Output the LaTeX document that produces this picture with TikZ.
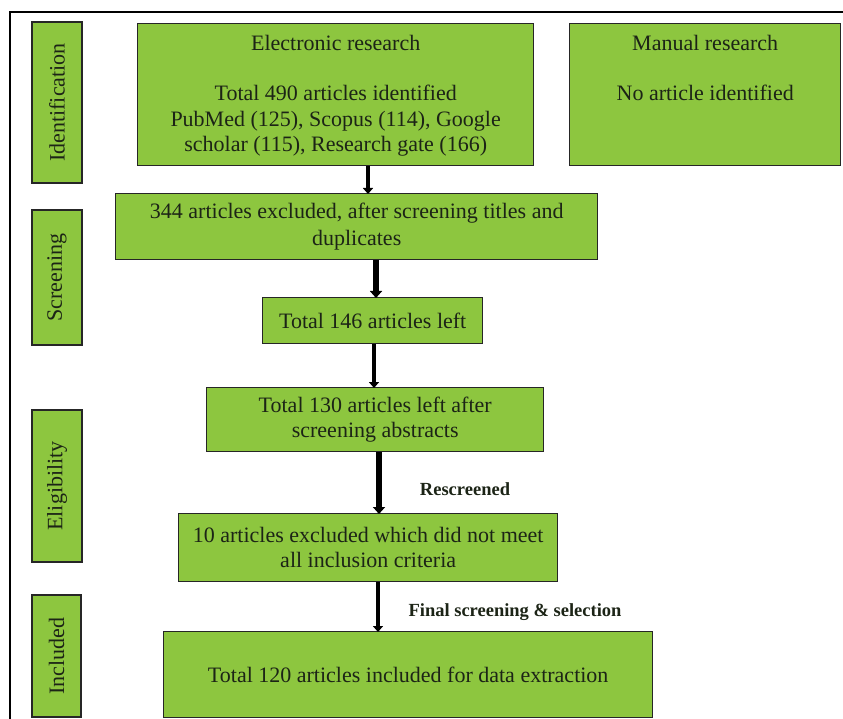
\documentclass[tikz,border=0pt]{standalone}
\usepackage{fontspec}
\setmainfont{Liberation Serif}
\usetikzlibrary{arrows.meta}
\definecolor{boxgreen}{RGB}{141,198,63}
\definecolor{ink}{RGB}{28,36,22}
\begin{document}
\begin{tikzpicture}[x=1pt,y=-1pt,
  box/.style={draw=black!85, line width=1.4pt, fill=boxgreen, inner sep=0pt, align=center, text=ink, font=\fontsize{22}{25}\selectfont},
  side/.style={draw=black!85, line width=1.4pt, fill=boxgreen, inner sep=0pt},
  sidetxt/.style={rotate=90, text=ink, font=\fontsize{22}{25}\selectfont},
  arr/.style={-{Triangle[length=6pt,width=10pt]}, line width=4pt, black, shorten >=-1pt},
  arrthick/.style={-{Triangle[length=7pt,width=12pt]}, line width=6pt, black, shorten >=-1pt},
  lbl/.style={text=ink, font=\fontsize{18.5}{21}\selectfont\bfseries}]
\useasboundingbox (0,0) rectangle (843,719);
\fill[white] (0,0) rectangle (843,719);
\draw[line width=2pt] (843,12) -- (10,12) -- (10,719);
% side labels
\node[side, minimum width=50pt, minimum height=161pt] (sid) at (57,102.5) {};
\node[sidetxt] at (sid.center) [xshift=0pt, yshift=0pt] {Identification};
\node[side, minimum width=50pt, minimum height=135pt] (ssc) at (57,277.5) {};
\node[sidetxt] at (ssc.center) {Screening};
\node[side, minimum width=50pt, minimum height=152pt] (sel) at (57,486) {};
\node[sidetxt] at (sel.center) {Eligibility};
\node[side, minimum width=49pt, minimum height=122pt] (sin) at (56.5,656) {};
\node[sidetxt] at (sin.center) {Included};
% main boxes
\node[box, minimum width=396pt, minimum height=142pt, anchor=north west] (elec) at (137,23) {};
\node[text=ink, font=\fontsize{22}{25.5}\selectfont, align=center, anchor=north, inner sep=0pt] at (elec.north) [yshift=-12pt] {Electronic research\\[25pt]Total 490 articles identified\\PubMed (125), Scopus (114), Google\\scholar (115), Research gate (166)};
\node[box, minimum width=271pt, minimum height=142pt, anchor=north west] (man) at (569,23) {};
\node[text=ink, font=\fontsize{22}{25.5}\selectfont, align=center, anchor=north, inner sep=0pt] at (man.north) [yshift=-12pt] {Manual research\\[25pt]No article identified};
\node[box, minimum width=482pt, minimum height=66pt, anchor=north west, font=\fontsize{22}{27.5}\selectfont] (excl) at (115,193) {344 articles excluded, after screening titles and\\duplicates};
\node[box, minimum width=220pt, minimum height=46pt, anchor=north west] (left146) at (262,297) {Total 146 articles left};
\node[box, minimum width=337pt, minimum height=64pt, anchor=north west] (left130) at (206,387) {Total 130 articles left after\\screening abstracts};
\node[box, minimum width=379pt, minimum height=68pt, anchor=north west] (excl10) at (178,513) {10 articles excluded which did not meet\\all inclusion criteria};
\node[box, minimum width=489pt, minimum height=86pt, anchor=north west] (final) at (163,631) {Total 120 articles included for data extraction};
% arrows
\draw[arr] (elec.south -| 368,0) -- (excl.north -| 368,0);
\draw[arrthick] (excl.south -| 376,0) -- (left146.north -| 376,0);
\draw[arr] (left146.south -| 374,0) -- (left130.north -| 374,0);
\draw[arrthick] (left130.south -| 379,0) -- (excl10.north -| 379,0);
\draw[arr] (excl10.south -| 378,0) -- (final.north -| 378,0);
\node[lbl] (rs) at (465,489) {Rescreened};
\node[lbl] (fs) at (515,612) {Final screening \& selection};
\end{tikzpicture}
\end{document}
